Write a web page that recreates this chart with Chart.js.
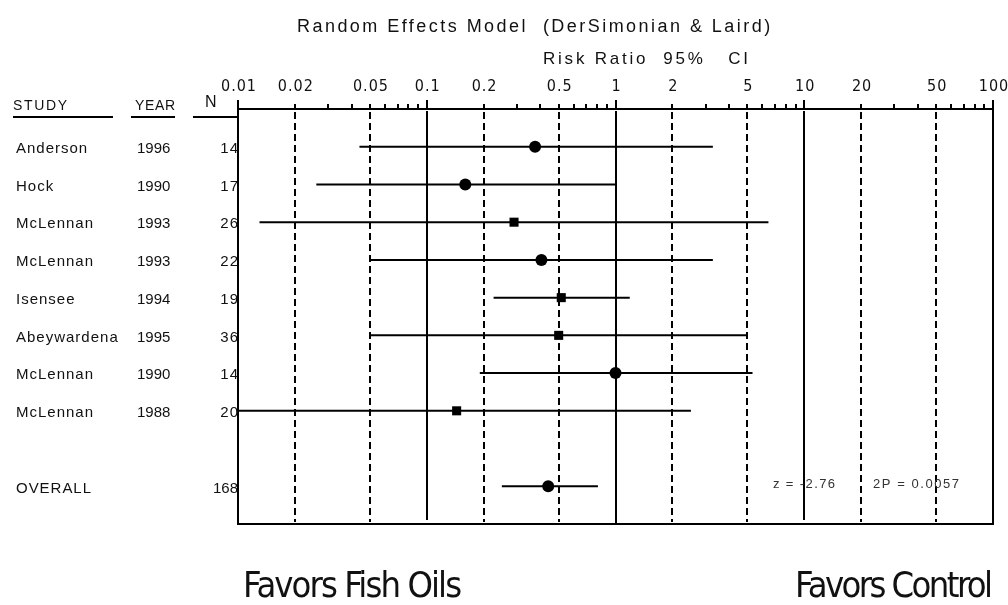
<!DOCTYPE html>
<html>
<head>
<meta charset="utf-8">
<title>Random Effects Model - Risk Ratio</title>
<script src="https://cdn.jsdelivr.net/npm/chart.js@4.4.1/dist/chart.umd.min.js"></script>
<style>
    body { margin: 0; background: #ffffff; }
    #forest { display: block; }
</style>
</head>
<body>
<canvas id="forest" width="1008" height="605"></canvas>
<script>
// study rows
const studies = ['Anderson', 'Hock', 'McLennan', 'McLennan', 'Isensee', 'Abeywardena', 'McLennan', 'McLennan'];
const years = ['1996', '1990', '1993', '1993', '1994', '1995', '1990', '1988'];
const patients = ['14', '17', '26', '22', '19', '36', '14', '20'];
const riskRatio = [0.375, 0.16, 0.29, 0.405, 0.516, 0.50, 1.0, 0.144];
const ciLow = [0.044, 0.026, 0.013, 0.05, 0.226, 0.05, 0.191, 0.01];
const ciHigh = [3.28, 1.0, 6.46, 3.28, 1.19, 5.0, 5.32, 2.51];
const markerShape = ['circle', 'circle', 'rect', 'circle', 'rect', 'rect', 'circle', 'rect'];

// pooled estimate
const overallN = '168';
const overallRR = 0.44;
const overallLow = 0.25;
const overallHigh = 0.807;
const overallRow = 9;
const zText = 'z = -2.76';
const pText = '2P = 0.0057';

// axis
const tickValues = [0.01, 0.02, 0.05, 0.1, 0.2, 0.5, 1, 2, 5, 10, 20, 50, 100];
const tickLabels = ['0.01', '0.02', '0.05', '0.1', '0.2', '0.5', '1', '2', '5', '10', '20', '50', '100'];
const solidLines = [0.1, 1, 10];
const dashedLines = [0.02, 0.05, 0.2, 0.5, 2, 5, 20, 50];

const INK = '#111111';

// draw text stretched to a given width with letter spacing (old plot font was wide)
function fitText(ctx, text, x, y, width) {
    ctx.letterSpacing = '0px';
    const w = ctx.measureText(text).width;
    const ls = text.length > 1 ? (width - w) / (text.length - 1) : 0;
    ctx.letterSpacing = ls.toFixed(2) + 'px';
    ctx.textAlign = 'left';
    ctx.fillText(text, x, y);
    ctx.letterSpacing = '0px';
}

const forestFrame = {
    id: 'forestFrame',
    beforeDatasetsDraw(chart) {
        const ctx = chart.ctx;
        const xs = chart.scales.x;
        const area = chart.chartArea;
        ctx.save();
        ctx.strokeStyle = '#000';
        ctx.lineWidth = 2;

        ctx.setLineDash([7, 4]);
        dashedLines.forEach(v => {
            const px = Math.round(xs.getPixelForValue(v));
            ctx.beginPath();
            ctx.moveTo(px, area.top + 3);
            ctx.lineTo(px, area.bottom - 2);
            ctx.stroke();
        });
        ctx.setLineDash([]);
        solidLines.forEach(v => {
            const px = Math.round(xs.getPixelForValue(v));
            ctx.beginPath();
            ctx.moveTo(px, area.top + 2);
            ctx.lineTo(px, v === 1 ? area.bottom : area.bottom - 4);
            ctx.stroke();
        });
        ctx.restore();
    },
    afterDatasetsDraw(chart) {
        const ctx = chart.ctx;
        const xs = chart.scales.x;
        const ys = chart.scales.y;
        const area = chart.chartArea;
        ctx.save();
        ctx.strokeStyle = '#000';
        ctx.lineWidth = 2;

        // box
        ctx.strokeRect(area.left, area.top, area.right - area.left, area.bottom - area.top);

        // ticks on the top edge
        for (let d = -2; d < 2; d++) {
            for (let m = 1; m <= 10; m++) {
                const v = m * Math.pow(10, d);
                const px = Math.round(xs.getPixelForValue(v));
                const len = (m === 1 || m === 10) ? 9 : 5;
                ctx.beginPath();
                ctx.moveTo(px, area.top);
                ctx.lineTo(px, area.top - len);
                ctx.stroke();
            }
        }

        // tick labels
        ctx.fillStyle = INK;
        ctx.font = "16px 'Liberation Sans Narrow', 'DejaVu Sans Condensed', sans-serif";
        ctx.textAlign = 'center';
        ctx.textBaseline = 'alphabetic';
        ctx.letterSpacing = '1px';
        tickValues.forEach((v, i) => {
            ctx.fillText(tickLabels[i], xs.getPixelForValue(v) + 1, 91);
        });
        ctx.letterSpacing = '0px';

        // titles
        ctx.font = "18px 'Liberation Sans', Arial, sans-serif";
        fitText(ctx, 'Random Effects Model  (DerSimonian & Laird)', 297, 32, 473);
        ctx.font = "17px 'Liberation Sans', Arial, sans-serif";
        fitText(ctx, 'Risk Ratio  95%   CI', 543, 64, 205);

        // table header
        ctx.font = "14px 'Liberation Sans', Arial, sans-serif";
        fitText(ctx, 'STUDY', 13, 110, 54);
        fitText(ctx, 'YEAR', 135, 110, 40);
        ctx.font = "16px 'Liberation Sans', Arial, sans-serif";
        ctx.textAlign = 'left';
        ctx.fillText('N', 205, 107);
        ctx.beginPath();
        ctx.moveTo(13, 117); ctx.lineTo(113, 117);
        ctx.moveTo(131, 117); ctx.lineTo(175, 117);
        ctx.moveTo(193, 117); ctx.lineTo(area.left, 117);
        ctx.stroke();

        // table rows
        ctx.font = "15px 'Liberation Sans', Arial, sans-serif";
        ctx.textBaseline = 'middle';
        studies.forEach((name, i) => {
            const py = ys.getPixelForValue(i) + 2;
            ctx.letterSpacing = '1px';
            ctx.textAlign = 'left';
            ctx.fillText(name, 16, py);
            ctx.letterSpacing = '0px';
            ctx.fillText(years[i], 137, py);
            ctx.textAlign = 'right';
            ctx.letterSpacing = '1px';
            ctx.fillText(patients[i], area.left + 1, py);
            ctx.letterSpacing = '0px';
        });
        const oy = ys.getPixelForValue(overallRow) + 3;
        fitText(ctx, 'OVERALL', 16, oy, 75);
        ctx.textAlign = 'right';
        ctx.fillText(overallN, area.left, oy);

        // test statistics
        ctx.fillStyle = '#333333';
        ctx.font = "13px 'Liberation Sans Narrow', 'Liberation Sans', sans-serif";
        fitText(ctx, zText, 773, oy - 5, 62);
        fitText(ctx, pText, 873, oy - 5, 86);

        // favours labels
        ctx.fillStyle = INK;
        ctx.textBaseline = 'alphabetic';
        ctx.font = "36px 'Liberation Sans Narrow', 'DejaVu Sans Condensed', sans-serif";
        fitText(ctx, 'Favors Fish Oils', 243, 597, 219);
        fitText(ctx, 'Favors Control', 795, 597, 198);
        ctx.restore();
    }
};

const datasets = [];
studies.forEach((name, i) => {
    datasets.push({
        type: 'line',
        data: [{ x: ciLow[i], y: i }, { x: ciHigh[i], y: i }],
        borderColor: '#000',
        borderWidth: 2,
        pointRadius: 0,
        showLine: true
    });
});
datasets.push({
    type: 'line',
    data: [{ x: overallLow, y: overallRow }, { x: overallHigh, y: overallRow }],
    borderColor: '#000',
    borderWidth: 2,
    pointRadius: 0,
    showLine: true
});
datasets.push({
    type: 'scatter',
    data: riskRatio.map((v, i) => ({ x: v, y: i })).concat([{ x: overallRR, y: overallRow }]),
    pointStyle: markerShape.concat(['circle']),
    pointRadius: markerShape.map(s => s === 'rect' ? 6.4 : 6).concat([6]),
    backgroundColor: '#000',
    borderColor: '#000',
    borderWidth: 0
});

const ctx = document.getElementById('forest').getContext('2d');
new Chart(ctx, {
    type: 'scatter',
    data: { datasets: datasets },
    options: {
        responsive: false,
        animation: false,
        events: [],
        layout: {
            padding: { left: 238, right: 15, top: 109, bottom: 81 }
        },
        scales: {
            x: { type: 'logarithmic', min: 0.01, max: 100, display: false },
            y: { type: 'linear', min: -1, max: 10, reverse: true, display: false }
        },
        plugins: {
            legend: { display: false },
            tooltip: { enabled: false }
        }
    },
    plugins: [forestFrame]
});
</script>
</body>
</html>
